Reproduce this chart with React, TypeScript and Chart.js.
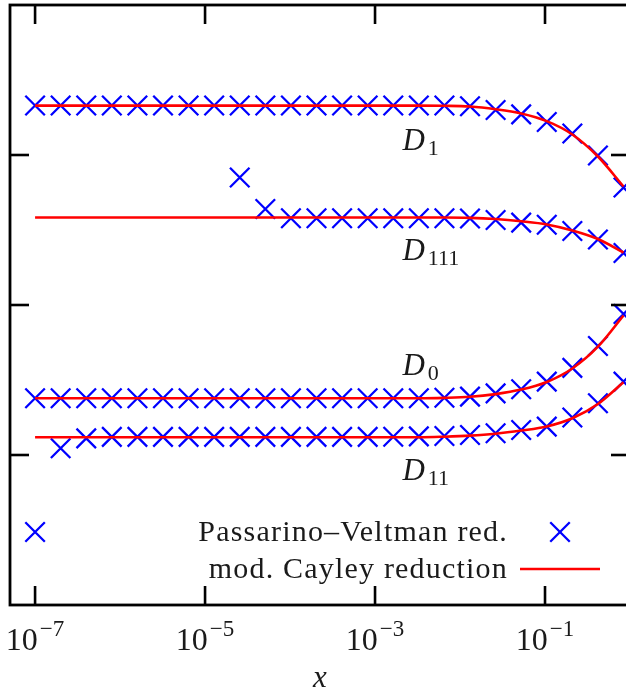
import { useEffect, useRef } from 'react';
import { Chart, registerables } from 'chart.js';

Chart.register(...registerables);

// x sample points (factor 2 steps from 1e-7)
const xValues = [
  1e-7, 2e-7, 4e-7, 8e-7, 1.6e-6, 3.2e-6, 6.4e-6, 1.28e-5, 2.56e-5, 5.12e-5,
  1.024e-4, 2.048e-4, 4.096e-4, 8.192e-4, 1.6384e-3, 3.2768e-3, 6.5536e-3,
  1.31072e-2, 2.62144e-2, 5.24288e-2, 0.1048576, 0.2097152, 0.4194304, 0.8388608,
];

// Passarino–Veltman reduction (crosses)
const pvD1 = [
  3.33, 3.33, 3.33, 3.33, 3.33, 3.33, 3.33, 3.33, 3.33, 3.33, 3.33, 3.33,
  3.33, 3.33, 3.33, 3.33, 3.33, 3.325, 3.3, 3.271, 3.22, 3.143, 2.997, 2.783,
];
const pvD111 = [
  null, null, null, null, null, null, null, null, 2.85, 2.64, 2.578, 2.578,
  2.578, 2.578, 2.578, 2.578, 2.578, 2.577, 2.567, 2.549, 2.535, 2.493, 2.437, 2.347,
];
const pvD0 = [
  1.378, 1.378, 1.378, 1.378, 1.378, 1.378, 1.378, 1.378, 1.378, 1.378, 1.378, 1.378,
  1.378, 1.378, 1.378, 1.378, 1.382, 1.389, 1.411, 1.438, 1.489, 1.581, 1.727, 1.94,
];
const pvD11 = [
  0.487, 1.045, 1.111, 1.121, 1.121, 1.121, 1.121, 1.121, 1.121, 1.121, 1.121, 1.121,
  1.121, 1.121, 1.122, 1.124, 1.127, 1.133, 1.145, 1.167, 1.189, 1.25, 1.345, 1.489,
];

// modified Cayley reduction (lines)
const cayD1 = [
  3.329, 3.329, 3.329, 3.329, 3.329, 3.329, 3.329, 3.329, 3.329, 3.329, 3.329, 3.329,
  3.329, 3.329, 3.329, 3.329, 3.328, 3.323, 3.305, 3.277, 3.226, 3.137, 2.99, 2.79,
];
const cayD111 = [
  2.583, 2.583, 2.583, 2.583, 2.583, 2.583, 2.583, 2.583, 2.583, 2.583, 2.583, 2.583,
  2.583, 2.583, 2.583, 2.583, 2.583, 2.581, 2.573, 2.558, 2.537, 2.497, 2.44, 2.35,
];
const cayD0 = [
  1.378, 1.378, 1.378, 1.378, 1.378, 1.378, 1.378, 1.378, 1.378, 1.378, 1.378, 1.378,
  1.378, 1.378, 1.378, 1.378, 1.381, 1.388, 1.406, 1.436, 1.487, 1.577, 1.722, 1.93,
];
const cayD11 = [
  1.118, 1.118, 1.118, 1.118, 1.118, 1.118, 1.118, 1.118, 1.118, 1.118, 1.118, 1.118,
  1.118, 1.118, 1.118, 1.118, 1.122, 1.129, 1.142, 1.163, 1.19, 1.245, 1.34, 1.485,
];

// axes
const xMin = 5.07e-8;
const xMax = 1;
const yMin = 0;
const yMax = 4;
const xTickValues = [1e-7, 1e-5, 1e-3, 1e-1];
const xTickExponents = ['\u22127', '\u22125', '\u22123', '\u22121'];
const yTickValues = [1, 2, 3];
const xAxisTitle = 'x';

// curve labels (anchored in data coordinates)
const curveSubscripts = ['1', '111', '0', '11'];
const curveLabelX = [2.1e-3, 2.1e-3, 2.1e-3, 2.1e-3];
const curveLabelY = [3.033, 2.3, 1.533, 0.833];

const legendLabels = ['Passarino\u2013Veltman red.', 'mod. Cayley reduction'];

const BLUE = '#0000ff';
const RED = '#ff0000';
const SERIF = '"Liberation Serif", "Times New Roman", serif';
const CROSS_R = 13.8;

const pts = (ys: (number | null)[]) => xValues.map((x, i) => ({ x, y: ys[i] }));

const framePlugin = {
  id: 'gnuplotFrame',
  afterDraw(chart: any) {
    const { ctx, chartArea: a, scales } = chart;
    const xs = scales.x;
    const ys = scales.y;
    ctx.save();
    ctx.strokeStyle = '#000';
    ctx.lineCap = 'butt';

    const seg = (x1: number, y1: number, x2: number, y2: number) => {
      ctx.beginPath();
      ctx.moveTo(x1, y1);
      ctx.lineTo(x2, y2);
      ctx.stroke();
    };

    // ticks (inward, mirrored)
    const tl = 19;
    ctx.lineWidth = 2.6;
    xTickValues.forEach((v) => {
      const px = xs.getPixelForValue(v);
      seg(px, a.bottom, px, a.bottom - tl);
      seg(px, a.top, px, a.top + tl);
    });
    yTickValues.forEach((v) => {
      const py = ys.getPixelForValue(v);
      seg(a.left, py, a.left + tl, py);
      seg(a.right, py, a.right - tl, py);
    });

    // border
    ctx.lineWidth = 2.8;
    ctx.strokeRect(a.left, a.top, a.right - a.left, a.bottom - a.top);

    ctx.fillStyle = '#1a1a1a';
    ctx.textBaseline = 'alphabetic';
    ctx.textAlign = 'left';
    (ctx as any).letterSpacing = '0px';

    // x tick labels 10^n
    const baseFont = `32px ${SERIF}`;
    const expFont = `23px ${SERIF}`;
    xTickValues.forEach((v, i) => {
      const px = xs.getPixelForValue(v);
      ctx.font = baseFont;
      const wb = ctx.measureText('10').width;
      ctx.font = expFont;
      const we = ctx.measureText(xTickExponents[i]).width;
      const start = Math.max(0, px - (wb + we + 2) / 2);
      ctx.font = baseFont;
      ctx.fillText('10', start, 650);
      ctx.font = expFont;
      ctx.fillText(xTickExponents[i], start + wb + 2, 636);
    });

    // axis title
    ctx.font = `italic 31px ${SERIF}`;
    ctx.textAlign = 'center';
    ctx.fillText(xAxisTitle, 320, 687);

    // curve labels
    ctx.textAlign = 'left';
    curveSubscripts.forEach((sub, i) => {
      const px = xs.getPixelForValue(curveLabelX[i]);
      const py = ys.getPixelForValue(curveLabelY[i]);
      ctx.font = `italic 31px ${SERIF}`;
      ctx.fillText('D', px, py);
      const w = ctx.measureText('D').width;
      ctx.font = `22px ${SERIF}`;
      ctx.fillText(sub, px + w + 3, py + 5);
    });

    // legend
    ctx.font = `30px ${SERIF}`;
    (ctx as any).letterSpacing = '1.2px';
    ctx.textAlign = 'right';
    const lx = 508;
    const rows = [532, 569];
    ctx.fillText(legendLabels[0], lx, rows[0] + 9);
    ctx.fillText(legendLabels[1], lx, rows[1] + 9);
    (ctx as any).letterSpacing = '0px';

    // legend samples
    const cx = 560;
    const h = CROSS_R * Math.SQRT1_2;
    ctx.strokeStyle = BLUE;
    ctx.lineWidth = 2.3;
    seg(cx - h, rows[0] - h, cx + h, rows[0] + h);
    seg(cx - h, rows[0] + h, cx + h, rows[0] - h);
    ctx.strokeStyle = RED;
    ctx.lineWidth = 2.6;
    seg(520, rows[1], 600, rows[1]);

    ctx.restore();
  },
};

export default function App() {
  const ref = useRef<HTMLCanvasElement>(null);

  useEffect(() => {
    if (!ref.current) return;
    const lineDs = (ys: number[]) => ({
      type: 'line' as const,
      data: pts(ys),
      borderColor: RED,
      borderWidth: 2.6,
      pointRadius: 0,
      fill: false,
      cubicInterpolationMode: 'monotone' as const,
      order: 0,
    });
    const pvDs = (ys: (number | null)[]) => ({
      type: 'line' as const,
      data: pts(ys),
      showLine: false,
      borderColor: BLUE,
      backgroundColor: BLUE,
      pointStyle: 'crossRot' as const,
      pointRadius: CROSS_R,
      pointBorderWidth: 2.3,
      pointBorderColor: BLUE,
      order: 1,
    });

    const chart = new Chart(ref.current, {
      type: 'line',
      data: {
        datasets: [
          lineDs(cayD1),
          lineDs(cayD111),
          lineDs(cayD0),
          lineDs(cayD11),
          pvDs(pvD1),
          pvDs(pvD111),
          pvDs(pvD0),
          pvDs(pvD11),
        ] as any,
      },
      options: {
        animation: false,
        responsive: false,
        devicePixelRatio: 1,
        parsing: false as any,
        layout: { autoPadding: false, padding: { left: 10, top: 5, right: 10, bottom: 87 } },
        plugins: {
          legend: { display: false },
          tooltip: { enabled: false },
        },
        events: [],
        scales: {
          x: { type: 'logarithmic', min: xMin, max: xMax, display: false },
          y: { type: 'linear', min: yMin, max: yMax, display: false },
        },
      },
      plugins: [framePlugin],
    });
    return () => chart.destroy();
  }, []);

  return (
    <div
      style={{
        position: 'fixed',
        left: 0,
        top: 0,
        width: 626,
        height: 692,
        overflow: 'hidden',
        background: '#fff',
      }}
    >
      <canvas ref={ref} width={640} height={692} style={{ display: 'block' }} />
    </div>
  );
}
